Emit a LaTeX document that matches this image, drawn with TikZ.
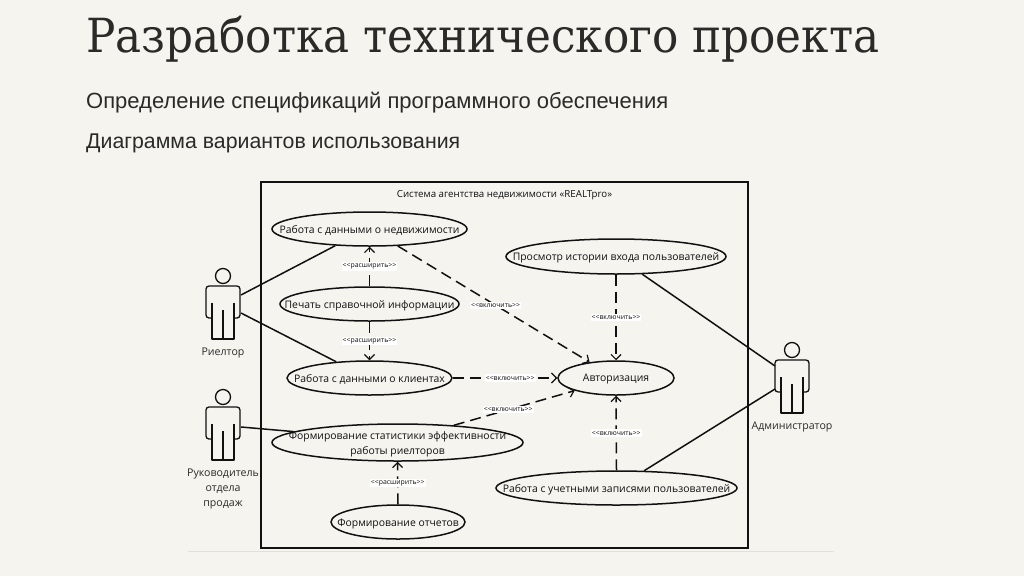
\documentclass[tikz,border=0pt]{standalone}
\usepackage{fontspec}
\usetikzlibrary{shapes.geometric,arrows.meta}
\setmainfont{Liberation Sans}
\newfontfamily\titlefont[FakeStretch=0.93]{DejaVu Serif}
\newfontfamily\dgfont{Open Sans}
\definecolor{paper}{HTML}{F5F4EF}
\definecolor{ink}{HTML}{2A2A28}
\definecolor{inkb}{HTML}{111111}
\tikzset{
  uc/.style={draw=inkb,line width=1.5pt,ellipse,inner sep=0pt,minimum width=#1},
  ut/.style={font=\dgfont\fontsize{10.4}{15}\selectfont,text=inkb,align=center,inner sep=0pt,yshift=-1.5pt},
  act/.style={font=\dgfont\fontsize{10.6}{15}\selectfont,text=ink,align=center,inner sep=0pt,yshift=-1.5pt},
  assoc/.style={draw=inkb,line width=1.5pt},
  dep/.style={draw=inkb,line width=1.5pt,dash pattern=on 11pt off 6pt,-{Straight Barb[length=5pt,width=10pt,line width=1.2pt]}},
  lbl/.style={font=\dgfont\fontsize{6.9}{8}\selectfont,text=inkb,fill=white,inner xsep=1pt,inner ysep=1.5pt},
  figline/.style={draw=inkb,line width=1.3pt,line join=round}
}
\newcommand{\actorfig}[3]{%
  \begin{scope}[shift={(#2,#3)}]
    \node[draw=inkb,line width=1.3pt,circle,minimum size=15pt,inner sep=0pt] (#1-head) at (0,0) {};
    \draw[figline,rounded corners=3pt] (-11,42) -- (-17,42) -- (-17,10) -- (17,10) -- (17,42) -- (11,42);
    \draw[figline] (-11,27) -- (-11,63) -- (11,63) -- (11,27) (0,34) -- (0,63);
  \end{scope}}
\begin{document}
\begin{tikzpicture}[x=1pt,y=-1pt]
\useasboundingbox (0,0) rectangle (1024,576);
\fill[paper] (0,0) rectangle (1024,576);
\node[anchor=base west,inner sep=0pt,text=ink,font=\titlefont\fontsize{47}{52}\selectfont] (title) at (86,52) {Разработка технического проекта};
\node[anchor=base west,inner sep=0pt,text=ink,font=\fontsize{22}{26}\selectfont] (sub1) at (86,108) {Определение спецификаций программного обеспечения};
\node[anchor=base west,inner sep=0pt,text=ink,font=\fontsize{21.3}{26}\selectfont] (sub2) at (86,148) {Диаграмма вариантов использования};
\draw[draw=black!12,line width=0.7pt] (188,551) -- (834,551);
\node[draw=inkb,line width=1.8pt,rectangle,inner sep=0pt,minimum width=487pt,minimum height=366pt] (sys) at (504.5,365) {};
\node[font=\dgfont\fontsize{9.7}{11}\selectfont,text=inkb,inner sep=0pt,yshift=-1pt] (systitle) at (504.5,194) {Система агентства недвижимости «REALTpro»};

\node[uc=195pt,minimum height=34pt,label={[ut]center:Работа с данными о недвижимости}] (e1) at (369.5,229) {};
\node[uc=179pt,minimum height=34pt,label={[ut]center:Печать справочной информации}] (e2) at (369.5,304) {};
\node[uc=165pt,minimum height=34pt,label={[ut]center:Работа с данными о клиентах}] (e3) at (369.5,378) {};
\node[uc=251pt,minimum height=37pt,label={[ut]center:Формирование статистики эффективности\\работы риелторов}] (e4) at (397.5,442.5) {};
\node[uc=134pt,minimum height=34pt,label={[ut]center:Формирование отчетов}] (e5) at (398,522) {};
\node[uc=220pt,minimum height=35pt,label={[ut]center:Просмотр истории входа пользователей}] (e6) at (616,256.5) {};
\node[uc=116pt,minimum height=34pt,label={[ut]center:Авторизация}] (e7) at (616,378) {};
\node[uc=241pt,minimum height=34pt,label={[ut]center:Работа с учетными записями пользователей}] (e8) at (616.5,488) {};

\actorfig{ra}{223}{276}
\actorfig{rb}{223}{397}
\actorfig{rc}{792}{350}
\coordinate (ra-up) at (241,295);
\coordinate (ra-low) at (241,313);
\coordinate (rb-up) at (241,427);
\coordinate (rc-up) at (775,366);
\coordinate (rc-low) at (775,389);
\node[act] (ra-name) at (223,351) {Риелтор};
\node[act] (rb-name) at (223,487) {Руководитель\\отдела\\продаж};
\node[act] (rc-name) at (792,425) {Администратор};

\draw[assoc] (ra-up) -- (e1.206);
\draw[assoc] (ra-low) -- (e3.154);
\draw[assoc] (rb-up) -- (e4.174);
\draw[assoc] (rc-up) -- (e6.-34);
\draw[assoc] (rc-low) -- (e8.32);

\draw[dep] (e2.north) -- node[lbl] (l1) {<<расширить>>} (e1.south);
\draw[dep] (e2.south) -- node[lbl] (l2) {<<расширить>>} (e3.north);
\draw[dep] (e1.-31) -- node[lbl,pos=.51] (l3) {<<включить>>} (e7.149);
\draw[dep] (e3.east) -- node[lbl,pos=.55] (l4) {<<включить>>} (e7.west);
\draw[dep] (e4.17) -- node[lbl,pos=.45] (l5) {<<включить>>} (e7.197);
\draw[dep] (e6.south) -- node[lbl] (l6) {<<включить>>} (e7.north);
\draw[dep] (e8.north) -- node[lbl] (l7) {<<включить>>} (e7.south);
\draw[dep] (e5.north) -- node[lbl] (l8) {<<расширить>>} (e4.south);
\end{tikzpicture}
\end{document}
